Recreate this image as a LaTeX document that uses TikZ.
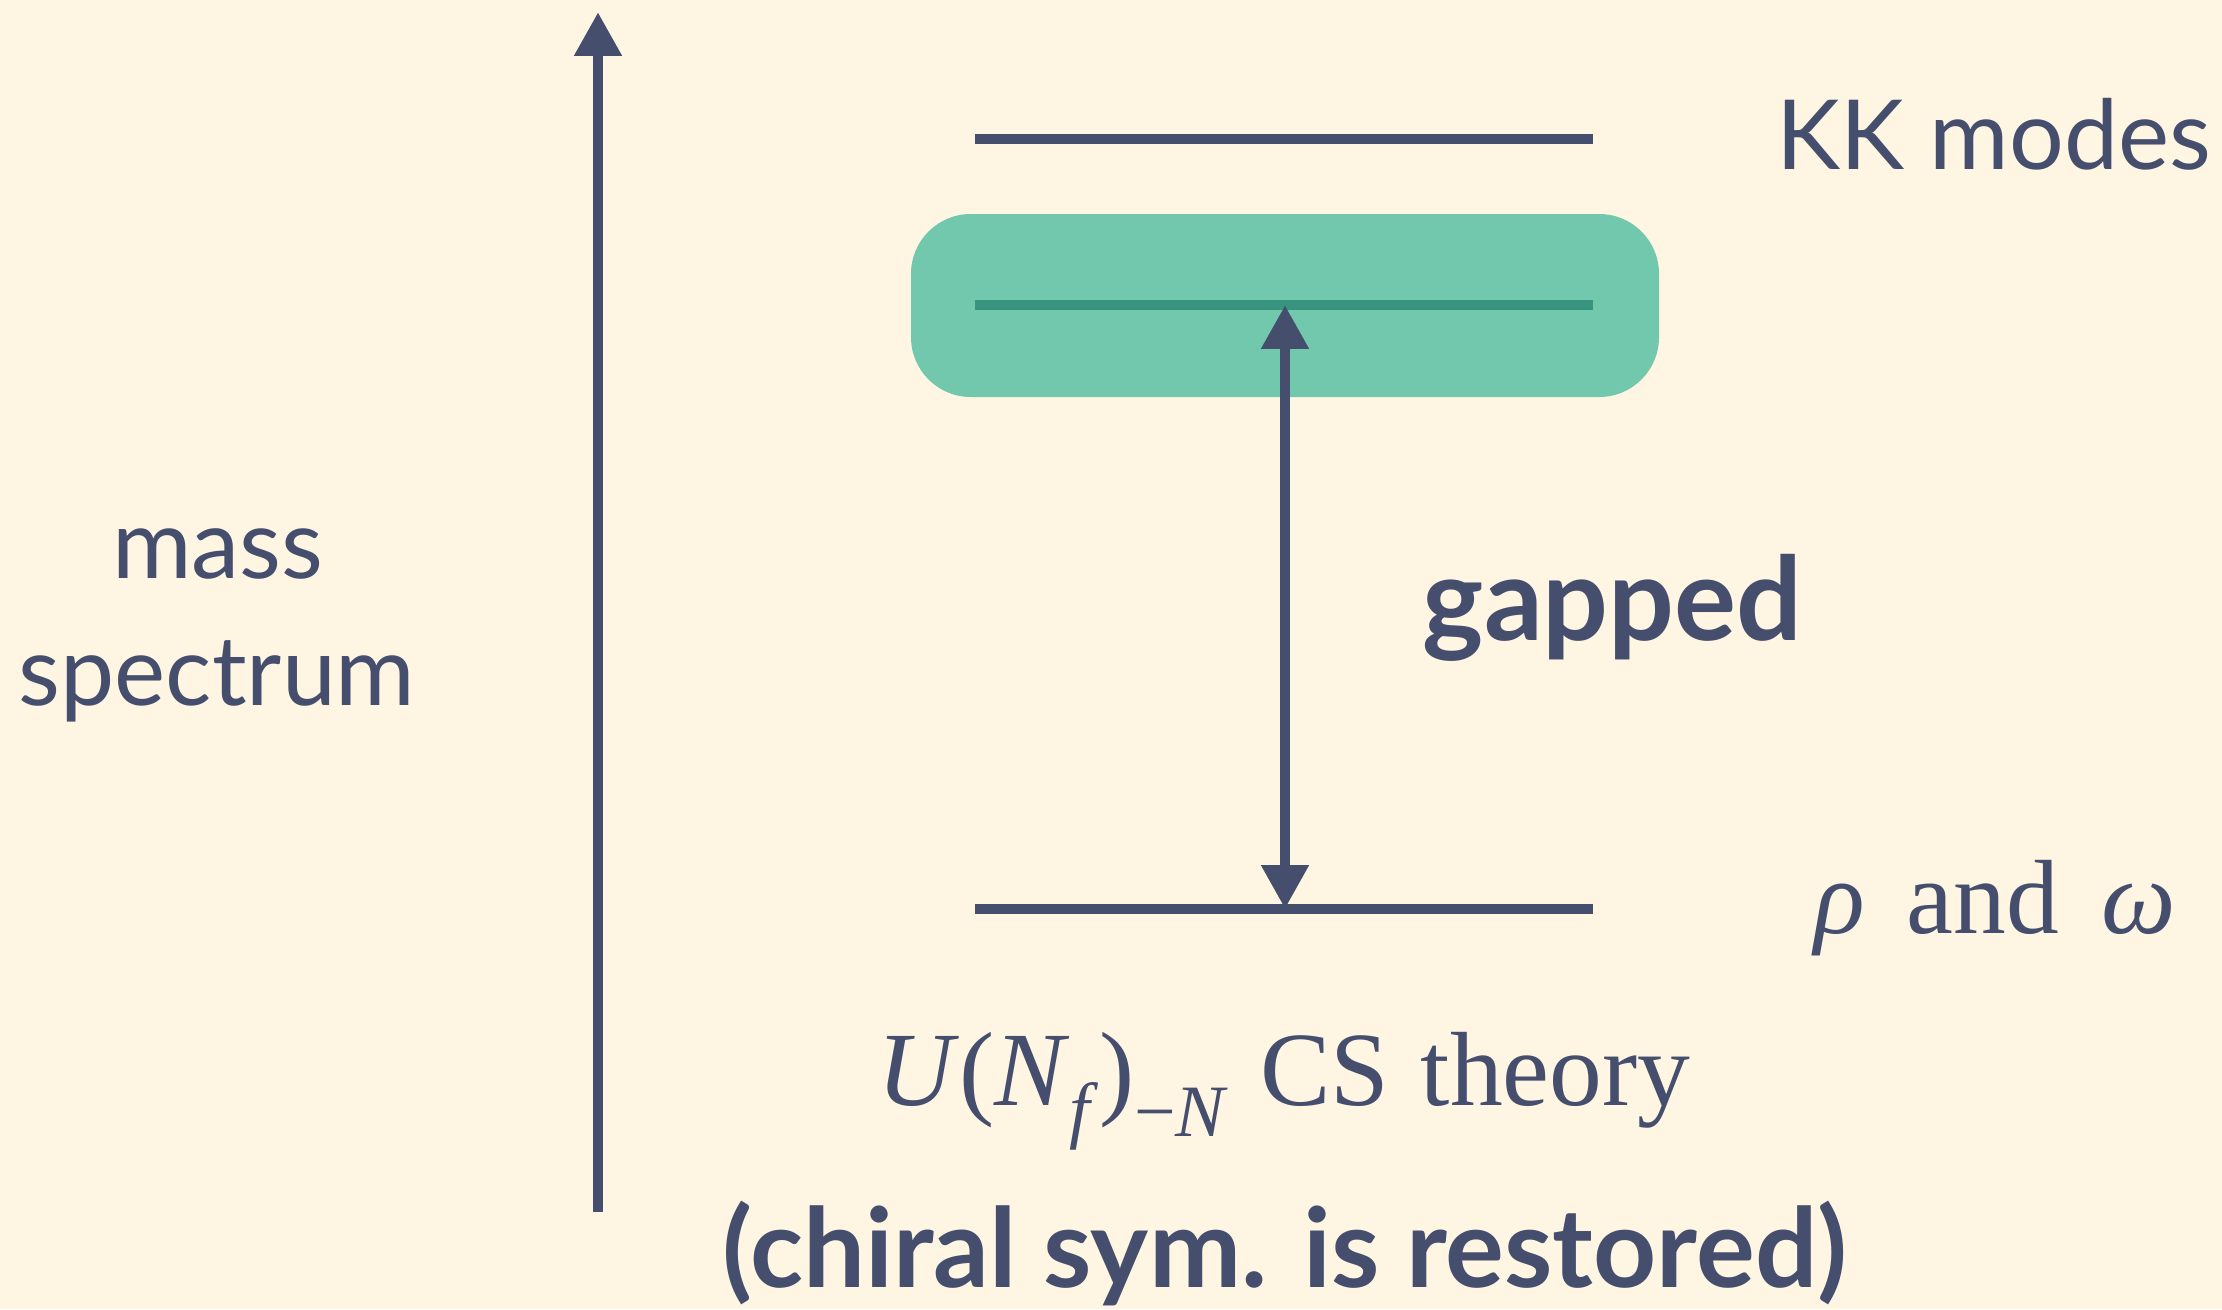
\documentclass[tikz,border=0pt]{standalone}
\usepackage{fontspec}
\setmainfont{Liberation Serif}
\newfontfamily\latofont{Lato}
\usetikzlibrary{arrows.meta}
\definecolor{bgc}{HTML}{FEF5E3}
\definecolor{navy}{HTML}{454E6D}
\definecolor{greenbox}{HTML}{72C8AC}
\definecolor{greenline}{HTML}{38937F}
\tikzset{
  level/.style={line width=3.1pt, draw=navy},
  arr/.style={line width=3.1pt, draw=navy, fill=navy},
  tip/.style={-{Triangle[length=12.5pt,width=12.8pt]}},
  sanslabel/.style={inner sep=0pt, text=navy, font=\latofont\fontsize{27.5}{36}\selectfont},
  boldlabel/.style={inner sep=0pt, text=navy, font=\latofont\bfseries\fontsize{31.3}{38}\selectfont},
  gaplabel/.style={inner sep=0pt, text=navy, font=\latofont\bfseries\fontsize{33}{38}\selectfont},
  seriflabel/.style={inner sep=0pt, text=navy, font=\fontsize{30}{36}\selectfont},
}
\begin{document}
\begin{tikzpicture}[x=0.01cm, y=-0.01cm]
\fill[bgc] (0,0) rectangle (2222,1309);
\useasboundingbox (0,0) rectangle (2222,1309);

% green highlight
\fill[greenbox, rounded corners=17pt] (911,214) rectangle (1659,397);

% level coordinates
\coordinate (kkL) at (975,139);
\coordinate (kkR) at (1593,139);
\coordinate (gL) at (975,305);
\coordinate (gR) at (1593,305);
\coordinate (gM) at (1285,305);
\coordinate (rL) at (975,909);
\coordinate (rR) at (1593,909);
\coordinate (rM) at (1285,909);
\coordinate (axB) at (598,1212);
\coordinate (axT) at (598,12);

\draw[level] (kkL) -- (kkR);
\draw[level, draw=greenline] (gL) -- (gR);
\draw[level] (rL) -- (rR);

% axis arrow
\draw[arr, tip] (axB) -- (axT);
% gap arrow
\draw[arr, {Triangle[length=12.5pt,width=12.8pt]}-{Triangle[length=12.5pt,width=12.8pt]}] (rM) -- (gM);

% labels
\node[sanslabel, anchor=base west] (kk) at (1776,169) {KK modes};
\node[sanslabel, anchor=base] (mass) at (218,578) {mass};
\node[sanslabel, anchor=base] (spec) at (217,705) {spectrum};
\node[gaplabel, anchor=base west] (gap) at (1422,640) {gapped};
\node[boldlabel, anchor=base] (chiral) at (1285,1287) {(chiral sym. is restored)};
\node[seriflabel, anchor=base] (rho) at (1995,933) {\textit{ρ}\hspace{0.4em}and\hspace{0.4em}\textit{ω}};
\node[seriflabel, anchor=base] (cs) at (1284,1105) {\textit{U}(\textit{N}\raisebox{-0.28em}{\fontsize{21}{24}\selectfont\textit{f}})\raisebox{-0.3em}{\fontsize{21}{24}\selectfont −\textit{N}}\hspace{0.3em}CS\hspace{0.3em}theory};
\end{tikzpicture}
\end{document}
